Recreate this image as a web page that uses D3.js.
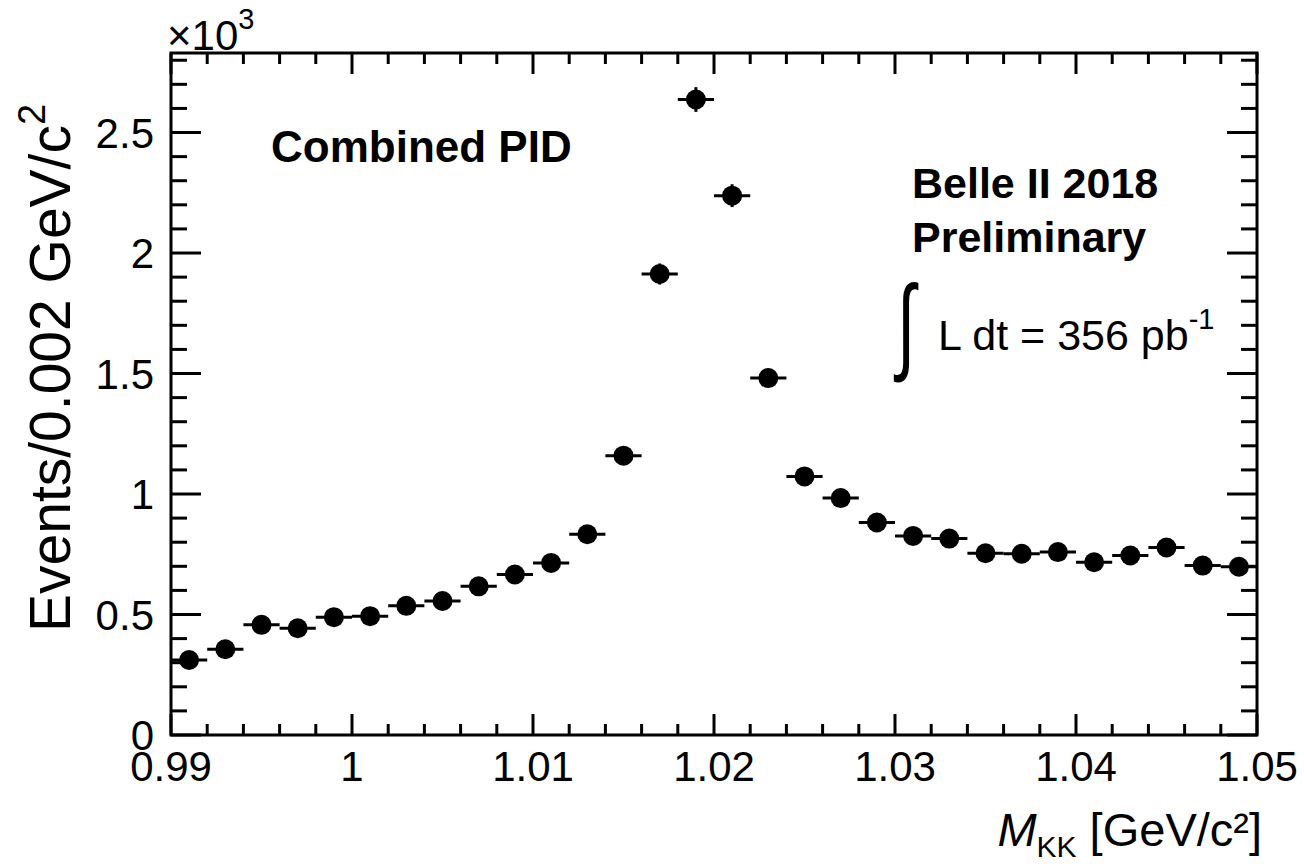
<!DOCTYPE html>
<html>
<head>
<meta charset="utf-8">
<script src="https://cdn.jsdelivr.net/npm/d3@7"></script>
<style>
  html, body { margin: 0; padding: 0; background: #fff; }
  svg { display: block; }
  text { font-family: "Liberation Sans", Arial, Helvetica, sans-serif; fill: #000; }
</style>
</head>
<body>
<svg id="chart" width="1304" height="867"></svg>
<script>
// K+K- invariant mass spectrum, 0.002 GeV/c^2 bins
const binCenters = [0.991, 0.993, 0.995, 0.997, 0.999, 1.001, 1.003, 1.005, 1.007, 1.009,
                    1.011, 1.013, 1.015, 1.017, 1.019, 1.021, 1.023, 1.025, 1.027, 1.029,
                    1.031, 1.033, 1.035, 1.037, 1.039, 1.041, 1.043, 1.045, 1.047, 1.049];
const events = [311, 356, 457, 443, 489, 493, 536, 556, 617, 666,
                714, 833, 1159, 1913, 2637, 2238, 1481, 1073, 983, 882,
                826, 815, 754, 752, 759, 717, 745, 778, 703, 698];
const binWidth = 0.002;
const xTickValues = [0.99, 1.0, 1.01, 1.02, 1.03, 1.04, 1.05];
const xTickLabels = ["0.99", "1", "1.01", "1.02", "1.03", "1.04", "1.05"];
const yTickValues = [0, 0.5, 1, 1.5, 2, 2.5];
const yTickLabels = ["0", "0.5", "1", "1.5", "2", "2.5"];

const svg = d3.select("#chart");
const L = 171, R = 1257, T = 53, B = 735;

const x = d3.scaleLinear().domain([0.99, 1.05]).range([L, R]);
const y = d3.scaleLinear().domain([0, 2830]).range([B, T]);   // counts
const yk = v => y(v * 1000);                                    // axis in units of 10^3

const g = svg.append("g");

// ticks: majors + minors on all four sides
const xMinor = d3.range(0, 31).map(i => 0.99 + i * 0.002);
const yMinor = d3.range(0, 29).map(i => i * 0.1);
const ticks = g.append("g").attr("stroke", "#000").attr("stroke-width", 3);
xMinor.forEach((v, i) => {
  const len = (i % 5 === 0) ? 21 : 11;
  ticks.append("line").attr("x1", x(v)).attr("x2", x(v)).attr("y1", B).attr("y2", B - len);
  ticks.append("line").attr("x1", x(v)).attr("x2", x(v)).attr("y1", T).attr("y2", T + len);
});
yMinor.forEach((v, i) => {
  const len = (i % 5 === 0) ? 30 : 16;
  ticks.append("line").attr("x1", L).attr("x2", L + len).attr("y1", yk(v)).attr("y2", yk(v));
  ticks.append("line").attr("x1", R).attr("x2", R - len).attr("y1", yk(v)).attr("y2", yk(v));
});

// frame
g.append("rect").attr("x", L).attr("y", T).attr("width", R - L).attr("height", B - T)
  .attr("fill", "none").attr("stroke", "#000").attr("stroke-width", 3);

// tick labels
g.append("g").selectAll("text").data(xTickValues).join("text")
  .attr("x", d => x(d)).attr("y", 781)
  .attr("text-anchor", "middle").attr("font-size", 42)
  .text((d, i) => xTickLabels[i]);
g.append("g").selectAll("text").data(yTickValues).join("text")
  .attr("x", 154).attr("y", d => yk(d) + 15)
  .attr("text-anchor", "end").attr("font-size", 42)
  .text((d, i) => yTickLabels[i]);

// exponent label
const ex = g.append("text").attr("x", 167).attr("y", 50).attr("font-size", 42);
ex.append("tspan").text("×10");
ex.append("tspan").attr("font-size", 29).attr("dy", -21).text("3");

// axis titles
const xt = g.append("text").attr("x", 1262).attr("y", 846)
  .attr("text-anchor", "end").attr("font-size", 47);
xt.append("tspan").attr("font-style", "italic").text("M");
xt.append("tspan").attr("font-size", 30).attr("dy", 11).text("KK");
xt.append("tspan").attr("dy", -11).text(" [GeV/c²]");

const yt = g.append("text")
  .attr("transform", "translate(70,632) rotate(-90)")
  .attr("font-size", 57);
yt.append("tspan").text("Events/0.002 GeV/c");
yt.append("tspan").attr("font-size", 38).attr("dy", -25).text("2");

// data points with error bars
const pts = g.append("g");
binCenters.forEach((c, i) => {
  const n = events[i], e = Math.sqrt(n);
  pts.append("line").attr("x1", x(c - binWidth / 2)).attr("x2", x(c + binWidth / 2))
    .attr("y1", y(n)).attr("y2", y(n)).attr("stroke", "#000").attr("stroke-width", 3);
  pts.append("line").attr("x1", x(c)).attr("x2", x(c))
    .attr("y1", y(n - e)).attr("y2", y(n + e)).attr("stroke", "#000").attr("stroke-width", 3);
  pts.append("circle").attr("cx", x(c)).attr("cy", y(n)).attr("r", 10).attr("fill", "#000");
});

// annotations
g.append("text").attr("x", 271).attr("y", 162).attr("font-size", 44).attr("font-weight", "bold")
  .text("Combined PID");
g.append("text").attr("x", 912).attr("y", 198).attr("font-size", 43).attr("font-weight", "bold")
  .text("Belle II 2018");
g.append("text").attr("x", 912).attr("y", 252).attr("font-size", 43).attr("font-weight", "bold")
  .text("Preliminary");
// tall thin integral sign: glyph stretched vertically
g.append("text").attr("transform", "translate(897,360) scale(1.25,2)")
  .attr("font-size", 53).attr("font-family", "Liberation Serif, serif").text("∫");
const lum = g.append("text").attr("x", 938).attr("y", 350).attr("font-size", 43);
lum.append("tspan").text("L dt = 356 pb");
lum.append("tspan").attr("font-size", 29).attr("dy", -21).text("-1");
</script>
</body>
</html>
